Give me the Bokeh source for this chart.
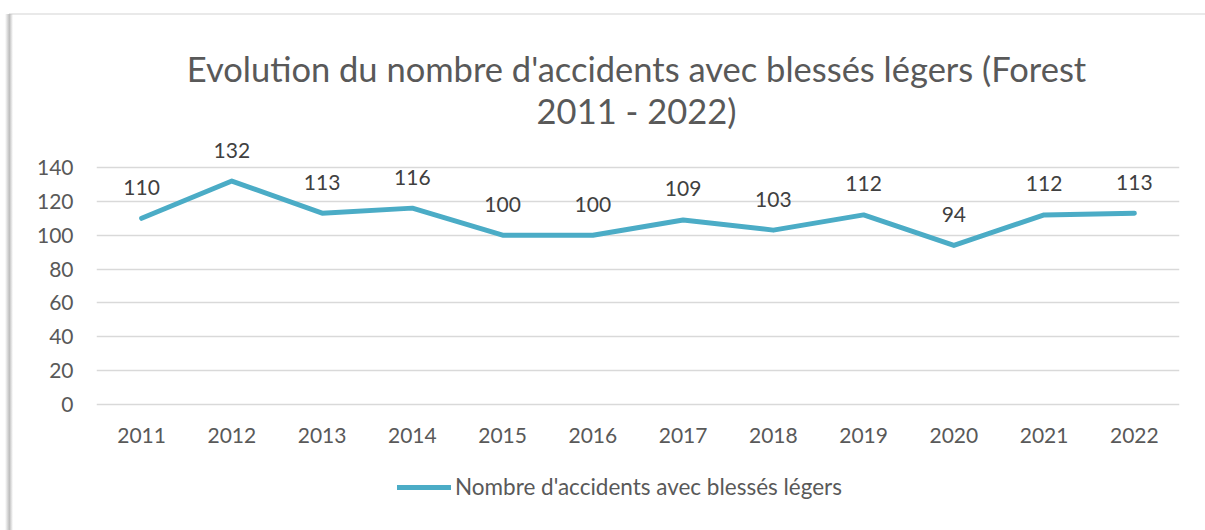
from bokeh.plotting import figure
from bokeh.models import ColumnDataSource, LabelSet, Legend, LegendItem, Label, FixedTicker
from bokeh.core.properties import value
from bokeh.embed import file_html
from bokeh.resources import INLINE

years = ["2011", "2012", "2013", "2014", "2015", "2016", "2017", "2018", "2019", "2020", "2021", "2022"]
values = [110, 132, 113, 116, 100, 100, 109, 103, 112, 94, 112, 113]
y_ticks = [0, 20, 40, 60, 80, 100, 120, 140]
series_name = "Nombre d'accidents avec blessés légers"
title_line1 = "Evolution du nombre d'accidents avec blessés légers (Forest"
title_line2 = "2011 - 2022)"

FONT = "Lato"
TXT = "#595959"
LINE = "#4BACC6"

W, H = 1205, 530
LEFT, RIGHT = 96, 26
TOP_PX, ZERO_PX = 167, 404          # pixel rows of the 140 and 0 gridlines
scale = (ZERO_PX - TOP_PX) / 140.0
y_lo = -(H - ZERO_PX) / scale
y_hi = 140 + TOP_PX / scale

src = ColumnDataSource(dict(x=years, y=values, lab=[str(v) for v in values]))

p = figure(width=W, height=H, x_range=years, y_range=(y_lo, y_hi),
           output_backend="svg", toolbar_location=None,
           min_border_left=LEFT, min_border_right=RIGHT, min_border_top=0, min_border_bottom=0)
p.title = None

r = p.line("x", "y", source=src, line_color=LINE, line_width=5, line_join="round", line_cap="round")

labels = LabelSet(x="x", y="y", text="lab", source=src, text_align="center", text_baseline="middle",
                  y_offset=31, text_font=value(FONT), text_font_size=value("21px"),
                  text_color="#404040")
p.add_layout(labels)

p.outline_line_color = None
p.xgrid.grid_line_color = None
p.ygrid.grid_line_color = "#D9D9D9"
p.ygrid.grid_line_width = 1.3
p.yaxis.ticker = FixedTicker(ticks=y_ticks)
for ax in (p.xaxis[0], p.yaxis[0]):
    ax.axis_line_color = None
    ax.major_tick_line_color = None
    ax.minor_tick_line_color = None
    ax.major_tick_out = 0
    ax.major_tick_in = 0
    ax.major_label_text_font = FONT
    ax.major_label_text_font_size = "21px"
    ax.major_label_text_color = TXT
p.xaxis.fixed_location = 0
p.xaxis.major_label_standoff = 23
p.yaxis.major_label_standoff = 23

title_cx = 636 - LEFT
for txt, row in ((title_line1, 68), (title_line2, 110)):
    p.add_layout(Label(x=title_cx, y=H - row, x_units="screen", y_units="screen", text=txt,
                       text_align="center", text_baseline="middle", text_font=FONT,
                       text_font_size="34.5px", text_color=TXT))

legend = Legend(items=[LegendItem(label=series_name, renderers=[r])],
                location=(397 - LEFT, H - 500), orientation="horizontal",
                label_text_font=FONT, label_text_font_size="22.5px", label_text_color=TXT,
                glyph_width=54, border_line_color=None, background_fill_alpha=0,
                padding=0, margin=0, label_standoff=4, spacing=0)
p.add_layout(legend, "center")

# transparent canvas so the chart-box shadow painted behind it (page background) shows
p.background_fill_alpha = 0
p.border_fill_alpha = 0
p.styles = {
    "background": (
        "linear-gradient(to right, rgba(255,255,255,0), #bdbdbd 55%, rgba(255,255,255,0)) "
        "5px 14px / 8px 516px no-repeat, "
        "linear-gradient(#e9e9e9, #e9e9e9) 9px 13px / 1196px 2px no-repeat, "
        "#ffffff"
    )
}

open("out.html", "w").write(file_html(p, INLINE))
